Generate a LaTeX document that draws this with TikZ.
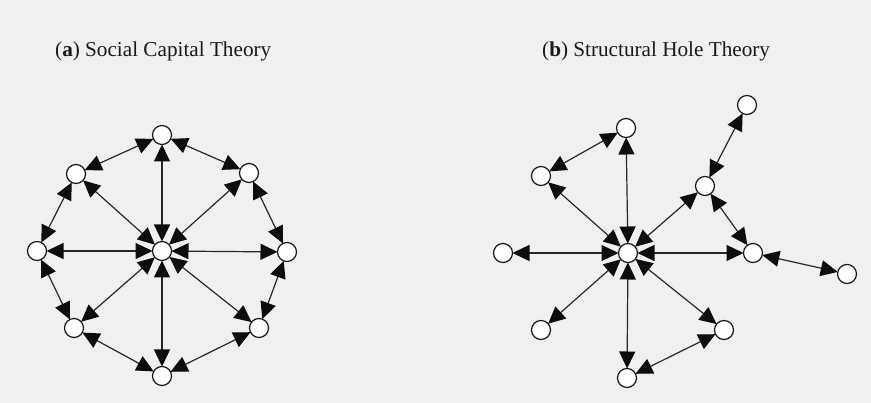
\documentclass[tikz,border=0pt]{standalone}
\usepackage{fontspec}
\setmainfont{Liberation Serif}
\usetikzlibrary{arrows.meta}
\begin{document}
\begin{tikzpicture}[x=1pt,y=-1pt,
  vtx/.style={circle, draw=black!90, line width=1.2pt, fill=white,
    minimum size=19pt, inner sep=0pt, outer sep=0pt},
  link/.style={line width=1.2pt, draw=black!85,
    {Triangle[length=17pt,width=16pt,color=black!95]}-{Triangle[length=17pt,width=16pt,color=black!95]}},
  title/.style={anchor=base west, inner sep=0pt,
    font=\fontsize{21.2}{24}\selectfont, text=black!90}]
\fill[black!6] (0,0) rectangle (871,403);
\useasboundingbox (0,0) rectangle (871,403);

% panel titles
\node[title] (ta) at (55,57) {(\textbf{a}) Social Capital Theory};
\node[title] (tb) at (542,57) {(\textbf{b}) Structural Hole Theory};

% (a) ring network around a hub
\node[vtx] (ac)  at (162,251) {};
\node[vtx] (an)  at (162,135) {};
\node[vtx] (anw) at (76,174) {};
\node[vtx] (ane) at (249,173) {};
\node[vtx] (aw)  at (37,251) {};
\node[vtx] (ae)  at (287,252) {};
\node[vtx] (asw) at (74,328) {};
\node[vtx] (ase) at (259,328) {};
\node[vtx] (as)  at (162,376) {};

\foreach \v in {an,anw,ane,aw,ae,asw,ase,as}
  \draw[link] (ac) -- (\v);
\draw[link] (an) -- (ane);
\draw[link] (ane) -- (ae);
\draw[link] (ae) -- (ase);
\draw[link] (ase) -- (as);
\draw[link] (as) -- (asw);
\draw[link] (asw) -- (aw);
\draw[link] (aw) -- (anw);
\draw[link] (anw) -- (an);

% (b) broker hub spanning separate clusters
\node[vtx] (bc)  at (628,253) {};
\node[vtx] (bn)  at (626,128) {};
\node[vtx] (bnw) at (541,176) {};
\node[vtx] (bfn) at (747,105) {};
\node[vtx] (bne) at (705,186) {};
\node[vtx] (be)  at (753,253) {};
\node[vtx] (bfe) at (847,274) {};
\node[vtx] (bw)  at (503,253) {};
\node[vtx] (bsw) at (541,330) {};
\node[vtx] (bse) at (724,330) {};
\node[vtx] (bs)  at (627,378) {};

\foreach \v in {bn,bnw,bne,be,bw,bsw,bse,bs}
  \draw[link] (bc) -- (\v);
\draw[link] (bnw) -- (bn);
\draw[link] (bs) -- (bse);
\draw[link] (bne) -- (bfn);
\draw[link] (bne) -- (be);
\draw[link] (be) -- (bfe);
\end{tikzpicture}
\end{document}
